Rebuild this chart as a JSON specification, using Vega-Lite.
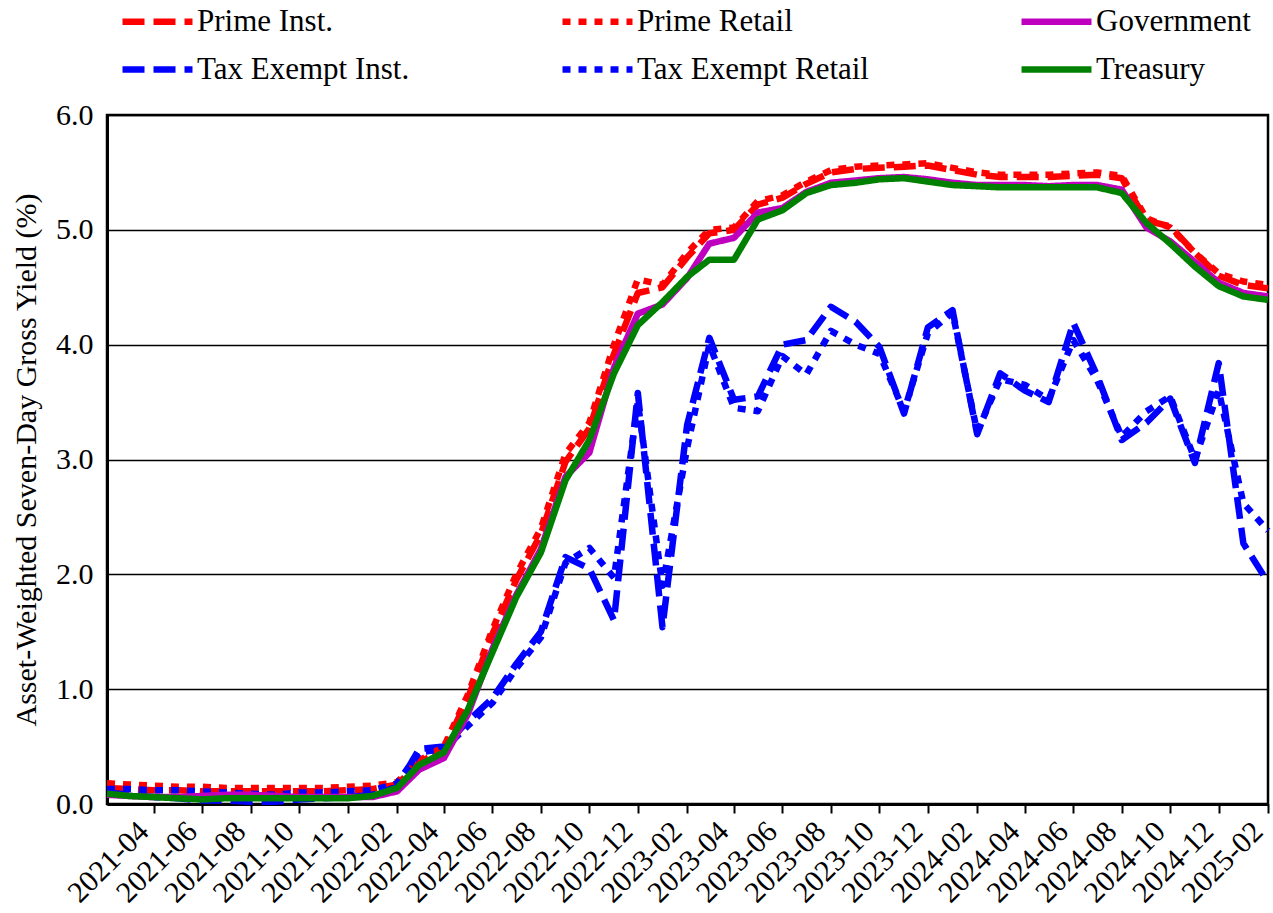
{
  "$schema": "https://vega.github.io/schema/vega-lite/v6.json",
  "width": 1161,
  "height": 689,
  "autosize": {"type": "none"},
  "padding": {"left": 107, "top": 115, "right": 5, "bottom": 109},
  "background": "white",
  "config": {
    "font": "Liberation Serif",
    "view": {"stroke": "black", "strokeWidth": 2.5}
  },
  "data": {"values": [
{"d":"2021-02","s":"Prime Inst.","v":0.14},{"d":"2021-03","s":"Prime Inst.","v":0.13},{"d":"2021-04","s":"Prime Inst.","v":0.12},{"d":"2021-05","s":"Prime Inst.","v":0.12},{"d":"2021-06","s":"Prime Inst.","v":0.11},{"d":"2021-07","s":"Prime Inst.","v":0.11},{"d":"2021-08","s":"Prime Inst.","v":0.11},{"d":"2021-09","s":"Prime Inst.","v":0.11},{"d":"2021-10","s":"Prime Inst.","v":0.11},{"d":"2021-11","s":"Prime Inst.","v":0.11},{"d":"2021-12","s":"Prime Inst.","v":0.12},{"d":"2022-01","s":"Prime Inst.","v":0.13},{"d":"2022-02","s":"Prime Inst.","v":0.17},{"d":"2022-03","s":"Prime Inst.","v":0.36},{"d":"2022-04","s":"Prime Inst.","v":0.48},{"d":"2022-05","s":"Prime Inst.","v":0.92},{"d":"2022-06","s":"Prime Inst.","v":1.48},{"d":"2022-07","s":"Prime Inst.","v":1.95},{"d":"2022-08","s":"Prime Inst.","v":2.35},{"d":"2022-09","s":"Prime Inst.","v":2.98},{"d":"2022-10","s":"Prime Inst.","v":3.27},{"d":"2022-11","s":"Prime Inst.","v":3.92},{"d":"2022-12","s":"Prime Inst.","v":4.45},{"d":"2023-01","s":"Prime Inst.","v":4.50},{"d":"2023-02","s":"Prime Inst.","v":4.76},{"d":"2023-03","s":"Prime Inst.","v":4.97},{"d":"2023-04","s":"Prime Inst.","v":5.00},{"d":"2023-05","s":"Prime Inst.","v":5.22},{"d":"2023-06","s":"Prime Inst.","v":5.28},{"d":"2023-07","s":"Prime Inst.","v":5.40},{"d":"2023-08","s":"Prime Inst.","v":5.50},{"d":"2023-09","s":"Prime Inst.","v":5.53},{"d":"2023-10","s":"Prime Inst.","v":5.54},{"d":"2023-11","s":"Prime Inst.","v":5.55},{"d":"2023-12","s":"Prime Inst.","v":5.56},{"d":"2024-01","s":"Prime Inst.","v":5.52},{"d":"2024-02","s":"Prime Inst.","v":5.48},{"d":"2024-03","s":"Prime Inst.","v":5.46},{"d":"2024-04","s":"Prime Inst.","v":5.46},{"d":"2024-05","s":"Prime Inst.","v":5.46},{"d":"2024-06","s":"Prime Inst.","v":5.47},{"d":"2024-07","s":"Prime Inst.","v":5.48},{"d":"2024-08","s":"Prime Inst.","v":5.45},{"d":"2024-09","s":"Prime Inst.","v":5.08},{"d":"2024-10","s":"Prime Inst.","v":5.03},{"d":"2024-11","s":"Prime Inst.","v":4.80},{"d":"2024-12","s":"Prime Inst.","v":4.60},{"d":"2025-01","s":"Prime Inst.","v":4.52},{"d":"2025-02","s":"Prime Inst.","v":4.49},
{"d":"2021-02","s":"Prime Retail","v":0.18},{"d":"2021-03","s":"Prime Retail","v":0.17},{"d":"2021-04","s":"Prime Retail","v":0.16},{"d":"2021-05","s":"Prime Retail","v":0.15},{"d":"2021-06","s":"Prime Retail","v":0.15},{"d":"2021-07","s":"Prime Retail","v":0.14},{"d":"2021-08","s":"Prime Retail","v":0.14},{"d":"2021-09","s":"Prime Retail","v":0.14},{"d":"2021-10","s":"Prime Retail","v":0.14},{"d":"2021-11","s":"Prime Retail","v":0.14},{"d":"2021-12","s":"Prime Retail","v":0.15},{"d":"2022-01","s":"Prime Retail","v":0.16},{"d":"2022-02","s":"Prime Retail","v":0.19},{"d":"2022-03","s":"Prime Retail","v":0.38},{"d":"2022-04","s":"Prime Retail","v":0.50},{"d":"2022-05","s":"Prime Retail","v":0.95},{"d":"2022-06","s":"Prime Retail","v":1.52},{"d":"2022-07","s":"Prime Retail","v":2.00},{"d":"2022-08","s":"Prime Retail","v":2.40},{"d":"2022-09","s":"Prime Retail","v":3.05},{"d":"2022-10","s":"Prime Retail","v":3.32},{"d":"2022-11","s":"Prime Retail","v":4.00},{"d":"2022-12","s":"Prime Retail","v":4.57},{"d":"2023-01","s":"Prime Retail","v":4.52},{"d":"2023-02","s":"Prime Retail","v":4.80},{"d":"2023-03","s":"Prime Retail","v":5.00},{"d":"2023-04","s":"Prime Retail","v":5.02},{"d":"2023-05","s":"Prime Retail","v":5.25},{"d":"2023-06","s":"Prime Retail","v":5.30},{"d":"2023-07","s":"Prime Retail","v":5.42},{"d":"2023-08","s":"Prime Retail","v":5.52},{"d":"2023-09","s":"Prime Retail","v":5.55},{"d":"2023-10","s":"Prime Retail","v":5.56},{"d":"2023-11","s":"Prime Retail","v":5.57},{"d":"2023-12","s":"Prime Retail","v":5.58},{"d":"2024-01","s":"Prime Retail","v":5.54},{"d":"2024-02","s":"Prime Retail","v":5.50},{"d":"2024-03","s":"Prime Retail","v":5.48},{"d":"2024-04","s":"Prime Retail","v":5.48},{"d":"2024-05","s":"Prime Retail","v":5.48},{"d":"2024-06","s":"Prime Retail","v":5.49},{"d":"2024-07","s":"Prime Retail","v":5.50},{"d":"2024-08","s":"Prime Retail","v":5.47},{"d":"2024-09","s":"Prime Retail","v":5.10},{"d":"2024-10","s":"Prime Retail","v":5.02},{"d":"2024-11","s":"Prime Retail","v":4.80},{"d":"2024-12","s":"Prime Retail","v":4.62},{"d":"2025-01","s":"Prime Retail","v":4.55},{"d":"2025-02","s":"Prime Retail","v":4.52},
{"d":"2021-02","s":"Government","v":0.08},{"d":"2021-03","s":"Government","v":0.07},{"d":"2021-04","s":"Government","v":0.06},{"d":"2021-05","s":"Government","v":0.06},{"d":"2021-06","s":"Government","v":0.07},{"d":"2021-07","s":"Government","v":0.08},{"d":"2021-08","s":"Government","v":0.08},{"d":"2021-09","s":"Government","v":0.07},{"d":"2021-10","s":"Government","v":0.06},{"d":"2021-11","s":"Government","v":0.06},{"d":"2021-12","s":"Government","v":0.06},{"d":"2022-01","s":"Government","v":0.06},{"d":"2022-02","s":"Government","v":0.11},{"d":"2022-03","s":"Government","v":0.30},{"d":"2022-04","s":"Government","v":0.40},{"d":"2022-05","s":"Government","v":0.78},{"d":"2022-06","s":"Government","v":1.35},{"d":"2022-07","s":"Government","v":1.82},{"d":"2022-08","s":"Government","v":2.22},{"d":"2022-09","s":"Government","v":2.85},{"d":"2022-10","s":"Government","v":3.06},{"d":"2022-11","s":"Government","v":3.80},{"d":"2022-12","s":"Government","v":4.27},{"d":"2023-01","s":"Government","v":4.35},{"d":"2023-02","s":"Government","v":4.58},{"d":"2023-03","s":"Government","v":4.88},{"d":"2023-04","s":"Government","v":4.93},{"d":"2023-05","s":"Government","v":5.15},{"d":"2023-06","s":"Government","v":5.19},{"d":"2023-07","s":"Government","v":5.33},{"d":"2023-08","s":"Government","v":5.41},{"d":"2023-09","s":"Government","v":5.43},{"d":"2023-10","s":"Government","v":5.45},{"d":"2023-11","s":"Government","v":5.46},{"d":"2023-12","s":"Government","v":5.44},{"d":"2024-01","s":"Government","v":5.41},{"d":"2024-02","s":"Government","v":5.39},{"d":"2024-03","s":"Government","v":5.39},{"d":"2024-04","s":"Government","v":5.39},{"d":"2024-05","s":"Government","v":5.38},{"d":"2024-06","s":"Government","v":5.39},{"d":"2024-07","s":"Government","v":5.39},{"d":"2024-08","s":"Government","v":5.35},{"d":"2024-09","s":"Government","v":5.02},{"d":"2024-10","s":"Government","v":4.90},{"d":"2024-11","s":"Government","v":4.72},{"d":"2024-12","s":"Government","v":4.54},{"d":"2025-01","s":"Government","v":4.45},{"d":"2025-02","s":"Government","v":4.42},
{"d":"2021-02","s":"Tax Exempt Inst.","v":0.10},{"d":"2021-03","s":"Tax Exempt Inst.","v":0.08},{"d":"2021-04","s":"Tax Exempt Inst.","v":0.06},{"d":"2021-05","s":"Tax Exempt Inst.","v":0.05},{"d":"2021-06","s":"Tax Exempt Inst.","v":0.03},{"d":"2021-07","s":"Tax Exempt Inst.","v":0.03},{"d":"2021-08","s":"Tax Exempt Inst.","v":0.02},{"d":"2021-09","s":"Tax Exempt Inst.","v":0.02},{"d":"2021-10","s":"Tax Exempt Inst.","v":0.04},{"d":"2021-11","s":"Tax Exempt Inst.","v":0.05},{"d":"2021-12","s":"Tax Exempt Inst.","v":0.06},{"d":"2022-01","s":"Tax Exempt Inst.","v":0.08},{"d":"2022-02","s":"Tax Exempt Inst.","v":0.15},{"d":"2022-03","s":"Tax Exempt Inst.","v":0.48},{"d":"2022-04","s":"Tax Exempt Inst.","v":0.50},{"d":"2022-05","s":"Tax Exempt Inst.","v":0.72},{"d":"2022-06","s":"Tax Exempt Inst.","v":0.92},{"d":"2022-07","s":"Tax Exempt Inst.","v":1.22},{"d":"2022-08","s":"Tax Exempt Inst.","v":1.50},{"d":"2022-09","s":"Tax Exempt Inst.","v":2.15},{"d":"2022-10","s":"Tax Exempt Inst.","v":2.05},{"d":"2022-11","s":"Tax Exempt Inst.","v":1.60},{"d":"2022-12","s":"Tax Exempt Inst.","v":3.58},{"d":"2023-01","s":"Tax Exempt Inst.","v":1.54},{"d":"2023-02","s":"Tax Exempt Inst.","v":3.30},{"d":"2023-03","s":"Tax Exempt Inst.","v":4.06},{"d":"2023-04","s":"Tax Exempt Inst.","v":3.52},{"d":"2023-05","s":"Tax Exempt Inst.","v":3.55},{"d":"2023-06","s":"Tax Exempt Inst.","v":4.00},{"d":"2023-07","s":"Tax Exempt Inst.","v":4.04},{"d":"2023-08","s":"Tax Exempt Inst.","v":4.33},{"d":"2023-09","s":"Tax Exempt Inst.","v":4.20},{"d":"2023-10","s":"Tax Exempt Inst.","v":3.98},{"d":"2023-11","s":"Tax Exempt Inst.","v":3.40},{"d":"2023-12","s":"Tax Exempt Inst.","v":4.15},{"d":"2024-01","s":"Tax Exempt Inst.","v":4.30},{"d":"2024-02","s":"Tax Exempt Inst.","v":3.22},{"d":"2024-03","s":"Tax Exempt Inst.","v":3.75},{"d":"2024-04","s":"Tax Exempt Inst.","v":3.60},{"d":"2024-05","s":"Tax Exempt Inst.","v":3.50},{"d":"2024-06","s":"Tax Exempt Inst.","v":4.19},{"d":"2024-07","s":"Tax Exempt Inst.","v":3.73},{"d":"2024-08","s":"Tax Exempt Inst.","v":3.17},{"d":"2024-09","s":"Tax Exempt Inst.","v":3.32},{"d":"2024-10","s":"Tax Exempt Inst.","v":3.53},{"d":"2024-11","s":"Tax Exempt Inst.","v":2.97},{"d":"2024-12","s":"Tax Exempt Inst.","v":3.84},{"d":"2025-01","s":"Tax Exempt Inst.","v":2.27},{"d":"2025-02","s":"Tax Exempt Inst.","v":1.93},
{"d":"2021-02","s":"Tax Exempt Retail","v":0.13},{"d":"2021-03","s":"Tax Exempt Retail","v":0.13},{"d":"2021-04","s":"Tax Exempt Retail","v":0.12},{"d":"2021-05","s":"Tax Exempt Retail","v":0.12},{"d":"2021-06","s":"Tax Exempt Retail","v":0.11},{"d":"2021-07","s":"Tax Exempt Retail","v":0.10},{"d":"2021-08","s":"Tax Exempt Retail","v":0.09},{"d":"2021-09","s":"Tax Exempt Retail","v":0.08},{"d":"2021-10","s":"Tax Exempt Retail","v":0.10},{"d":"2021-11","s":"Tax Exempt Retail","v":0.10},{"d":"2021-12","s":"Tax Exempt Retail","v":0.11},{"d":"2022-01","s":"Tax Exempt Retail","v":0.12},{"d":"2022-02","s":"Tax Exempt Retail","v":0.18},{"d":"2022-03","s":"Tax Exempt Retail","v":0.45},{"d":"2022-04","s":"Tax Exempt Retail","v":0.48},{"d":"2022-05","s":"Tax Exempt Retail","v":0.68},{"d":"2022-06","s":"Tax Exempt Retail","v":0.88},{"d":"2022-07","s":"Tax Exempt Retail","v":1.18},{"d":"2022-08","s":"Tax Exempt Retail","v":1.45},{"d":"2022-09","s":"Tax Exempt Retail","v":2.10},{"d":"2022-10","s":"Tax Exempt Retail","v":2.23},{"d":"2022-11","s":"Tax Exempt Retail","v":1.97},{"d":"2022-12","s":"Tax Exempt Retail","v":3.50},{"d":"2023-01","s":"Tax Exempt Retail","v":1.90},{"d":"2023-02","s":"Tax Exempt Retail","v":3.10},{"d":"2023-03","s":"Tax Exempt Retail","v":4.00},{"d":"2023-04","s":"Tax Exempt Retail","v":3.45},{"d":"2023-05","s":"Tax Exempt Retail","v":3.42},{"d":"2023-06","s":"Tax Exempt Retail","v":3.90},{"d":"2023-07","s":"Tax Exempt Retail","v":3.74},{"d":"2023-08","s":"Tax Exempt Retail","v":4.12},{"d":"2023-09","s":"Tax Exempt Retail","v":4.00},{"d":"2023-10","s":"Tax Exempt Retail","v":3.92},{"d":"2023-11","s":"Tax Exempt Retail","v":3.42},{"d":"2023-12","s":"Tax Exempt Retail","v":4.10},{"d":"2024-01","s":"Tax Exempt Retail","v":4.28},{"d":"2024-02","s":"Tax Exempt Retail","v":3.24},{"d":"2024-03","s":"Tax Exempt Retail","v":3.70},{"d":"2024-04","s":"Tax Exempt Retail","v":3.65},{"d":"2024-05","s":"Tax Exempt Retail","v":3.52},{"d":"2024-06","s":"Tax Exempt Retail","v":4.04},{"d":"2024-07","s":"Tax Exempt Retail","v":3.69},{"d":"2024-08","s":"Tax Exempt Retail","v":3.20},{"d":"2024-09","s":"Tax Exempt Retail","v":3.42},{"d":"2024-10","s":"Tax Exempt Retail","v":3.55},{"d":"2024-11","s":"Tax Exempt Retail","v":3.00},{"d":"2024-12","s":"Tax Exempt Retail","v":3.60},{"d":"2025-01","s":"Tax Exempt Retail","v":2.62},{"d":"2025-02","s":"Tax Exempt Retail","v":2.38},
{"d":"2021-02","s":"Treasury","v":0.09},{"d":"2021-03","s":"Treasury","v":0.07},{"d":"2021-04","s":"Treasury","v":0.06},{"d":"2021-05","s":"Treasury","v":0.05},{"d":"2021-06","s":"Treasury","v":0.04},{"d":"2021-07","s":"Treasury","v":0.05},{"d":"2021-08","s":"Treasury","v":0.05},{"d":"2021-09","s":"Treasury","v":0.05},{"d":"2021-10","s":"Treasury","v":0.05},{"d":"2021-11","s":"Treasury","v":0.05},{"d":"2021-12","s":"Treasury","v":0.05},{"d":"2022-01","s":"Treasury","v":0.07},{"d":"2022-02","s":"Treasury","v":0.14},{"d":"2022-03","s":"Treasury","v":0.34},{"d":"2022-04","s":"Treasury","v":0.45},{"d":"2022-05","s":"Treasury","v":0.82},{"d":"2022-06","s":"Treasury","v":1.32},{"d":"2022-07","s":"Treasury","v":1.80},{"d":"2022-08","s":"Treasury","v":2.19},{"d":"2022-09","s":"Treasury","v":2.82},{"d":"2022-10","s":"Treasury","v":3.17},{"d":"2022-11","s":"Treasury","v":3.75},{"d":"2022-12","s":"Treasury","v":4.17},{"d":"2023-01","s":"Treasury","v":4.37},{"d":"2023-02","s":"Treasury","v":4.59},{"d":"2023-03","s":"Treasury","v":4.74},{"d":"2023-04","s":"Treasury","v":4.74},{"d":"2023-05","s":"Treasury","v":5.09},{"d":"2023-06","s":"Treasury","v":5.17},{"d":"2023-07","s":"Treasury","v":5.32},{"d":"2023-08","s":"Treasury","v":5.39},{"d":"2023-09","s":"Treasury","v":5.41},{"d":"2023-10","s":"Treasury","v":5.44},{"d":"2023-11","s":"Treasury","v":5.45},{"d":"2023-12","s":"Treasury","v":5.42},{"d":"2024-01","s":"Treasury","v":5.39},{"d":"2024-02","s":"Treasury","v":5.38},{"d":"2024-03","s":"Treasury","v":5.37},{"d":"2024-04","s":"Treasury","v":5.37},{"d":"2024-05","s":"Treasury","v":5.37},{"d":"2024-06","s":"Treasury","v":5.37},{"d":"2024-07","s":"Treasury","v":5.37},{"d":"2024-08","s":"Treasury","v":5.32},{"d":"2024-09","s":"Treasury","v":5.06},{"d":"2024-10","s":"Treasury","v":4.88},{"d":"2024-11","s":"Treasury","v":4.68},{"d":"2024-12","s":"Treasury","v":4.51},{"d":"2025-01","s":"Treasury","v":4.42},{"d":"2025-02","s":"Treasury","v":4.39}
  ]},
  "encoding": {
    "x": {
      "field": "d", "type": "temporal", "timeUnit": "utcyearmonth",
      "scale": {"domain": [{"year": 2021, "month": 2, "date": 1, "utc": true}, {"year": 2025, "month": 2, "date": 1, "utc": true}]},
      "axis": {
        "title": null, "grid": false,
        "values": [
          {"year": 2021, "month": 4, "date": 1, "utc": true}, {"year": 2021, "month": 6, "date": 1, "utc": true}, {"year": 2021, "month": 8, "date": 1, "utc": true}, {"year": 2021, "month": 10, "date": 1, "utc": true}, {"year": 2021, "month": 12, "date": 1, "utc": true},
          {"year": 2022, "month": 2, "date": 1, "utc": true}, {"year": 2022, "month": 4, "date": 1, "utc": true}, {"year": 2022, "month": 6, "date": 1, "utc": true}, {"year": 2022, "month": 8, "date": 1, "utc": true}, {"year": 2022, "month": 10, "date": 1, "utc": true}, {"year": 2022, "month": 12, "date": 1, "utc": true},
          {"year": 2023, "month": 2, "date": 1, "utc": true}, {"year": 2023, "month": 4, "date": 1, "utc": true}, {"year": 2023, "month": 6, "date": 1, "utc": true}, {"year": 2023, "month": 8, "date": 1, "utc": true}, {"year": 2023, "month": 10, "date": 1, "utc": true}, {"year": 2023, "month": 12, "date": 1, "utc": true},
          {"year": 2024, "month": 2, "date": 1, "utc": true}, {"year": 2024, "month": 4, "date": 1, "utc": true}, {"year": 2024, "month": 6, "date": 1, "utc": true}, {"year": 2024, "month": 8, "date": 1, "utc": true}, {"year": 2024, "month": 10, "date": 1, "utc": true}, {"year": 2024, "month": 12, "date": 1, "utc": true},
          {"year": 2025, "month": 2, "date": 1, "utc": true}
        ],
        "format": "%Y-%m",
        "labelAngle": -45, "labelAlign": "right", "labelBaseline": "alphabetic",
        "labelFont": "Liberation Serif", "labelFontSize": 30, "labelColor": "black",
        "labelPadding": 20, "labelOffset": -4, "labelOverlap": false, "labelFlush": false,
        "tickColor": "black", "tickSize": 9, "tickWidth": 2,
        "domainColor": "black", "domainWidth": 3
      }
    },
    "y": {
      "field": "v", "type": "quantitative",
      "scale": {"domain": [0, 6], "nice": false, "zero": true},
      "axis": {
        "title": "Asset-Weighted Seven-Day Gross Yield (%)",
        "titleFont": "Liberation Serif", "titleFontSize": 30, "titleFontWeight": "normal", "titleColor": "black", "titlePadding": 14,
        "values": [0, 1, 2, 3, 4, 5, 6], "format": ".1f",
        "labelFont": "Liberation Serif", "labelFontSize": 30, "labelColor": "black", "labelPadding": 14,
        "ticks": false,
        "grid": true, "gridColor": "black", "gridWidth": 1.3, "gridOpacity": 1,
        "domainColor": "black", "domainWidth": 3
      }
    },
    "color": {
      "field": "s", "type": "nominal",
      "scale": {
        "domain": ["Prime Inst.", "Prime Retail", "Government", "Tax Exempt Inst.", "Tax Exempt Retail", "Treasury"],
        "range": ["#ff0000", "#ff0000", "#bf00bf", "#0000ff", "#0000ff", "#008000"]
      },
      "legend": {
        "title": null, "orient": "none", "legendX": 31, "legendY": -113, "direction": "horizontal", "columns": 3,
        "gridAlign": "each", "columnPadding": 139, "rowPadding": 13, "padding": 0,
        "symbolType": "M-2.2,0H2.2", "symbolSize": 1012, "symbolStrokeWidth": 6.5,
        "labelFont": "Liberation Serif", "labelFontSize": 31, "labelColor": "black", "labelOffset": 20, "labelLimit": 400
      }
    },
    "strokeDash": {
      "field": "s", "type": "nominal",
      "scale": {
        "domain": ["Prime Inst.", "Prime Retail", "Government", "Tax Exempt Inst.", "Tax Exempt Retail", "Treasury"],
        "range": [[22, 9], [8, 8], [1, 0], [22, 9], [8, 8], [1, 0]]
      },
      "legend": {
        "title": null, "orient": "none", "legendX": 31, "legendY": -113, "direction": "horizontal", "columns": 3,
        "gridAlign": "each", "columnPadding": 139, "rowPadding": 13, "padding": 0,
        "symbolType": "M-2.2,0H2.2", "symbolSize": 1012, "symbolStrokeWidth": 6.5,
        "labelFont": "Liberation Serif", "labelFontSize": 31, "labelColor": "black", "labelOffset": 20, "labelLimit": 400
      }
    }
  },
  "layer": [
    {"transform": [{"filter": "datum.s === 'Prime Inst.'"}], "mark": {"type": "line", "strokeWidth": 6.5, "strokeJoin": "round"}},
    {"transform": [{"filter": "datum.s === 'Tax Exempt Inst.'"}], "mark": {"type": "line", "strokeWidth": 6.5, "strokeJoin": "round"}},
    {"transform": [{"filter": "datum.s === 'Prime Retail'"}], "mark": {"type": "line", "strokeWidth": 6.5, "strokeJoin": "round"}},
    {"transform": [{"filter": "datum.s === 'Tax Exempt Retail'"}], "mark": {"type": "line", "strokeWidth": 6.5, "strokeJoin": "round"}},
    {"transform": [{"filter": "datum.s === 'Government'"}], "mark": {"type": "line", "strokeWidth": 6.5, "strokeJoin": "round"}},
    {"transform": [{"filter": "datum.s === 'Treasury'"}], "mark": {"type": "line", "strokeWidth": 6.5, "strokeJoin": "round"}}
  ]
}
